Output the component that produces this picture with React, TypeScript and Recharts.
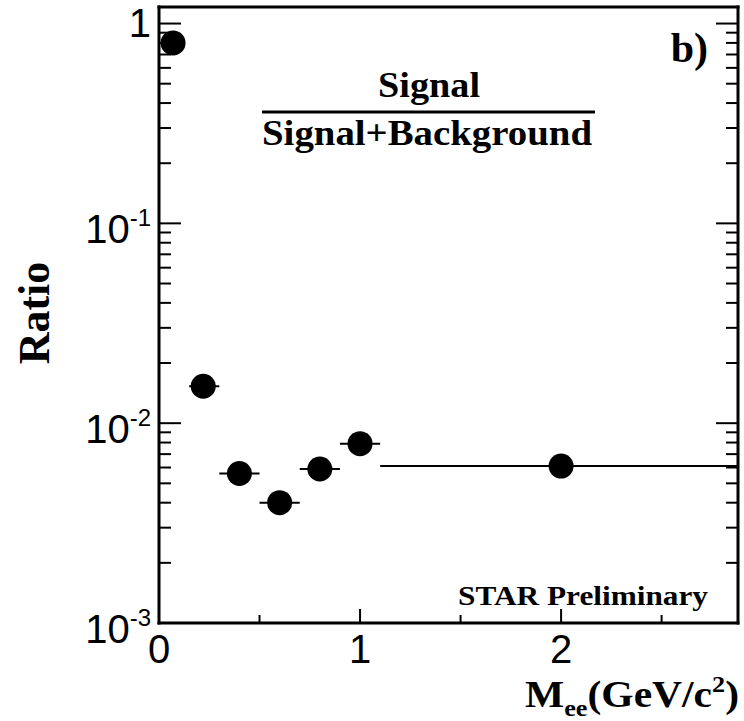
import React from "react";
import {
  ScatterChart,
  Scatter,
  XAxis,
  YAxis,
  ErrorBar,
} from "recharts";

// S/(S+B) ratio vs dielectron mass
const massBins = [0.07, 0.22, 0.4, 0.6, 0.8, 1.0, 2.0];
const ratioValues = [0.8, 0.0153, 0.0056, 0.004, 0.0059, 0.0079, 0.0061];
const binWidthLow = [0, 0.07, 0.1, 0.1, 0.1, 0.1, 0.9];
const binWidthHigh = [0, 0.08, 0.1, 0.1, 0.1, 0.1, 0.88];

const xTicks = [0, 0.5, 1, 1.5, 2, 2.5];
const xMajorTicks = [0, 1, 2];
const yDecades = [0.001, 0.01, 0.1, 1];
const yMinorSteps = [2, 3, 4, 5, 6, 7, 8, 9];
const yExponents = ["-3", "-2", "-1", "0"];

const data = massBins.map((m, i) => ({
  mass: m,
  ratio: ratioValues[i],
  massErr: [binWidthLow[i], binWidthHigh[i]],
}));

const yTicks = yDecades.flatMap((d, i) =>
  i === yDecades.length - 1 ? [d] : [d, ...yMinorSteps.map((s) => +(d * s).toPrecision(3))]
);

const sans = { fontFamily: '"Liberation Sans"' };
const serifBold = { fontFamily: '"Liberation Serif"', fontWeight: 700 };

function isMajorY(v: number) {
  return yDecades.some((d) => Math.abs(d - v) < d * 1e-6);
}

function LeftTick({ x, y, payload }: any) {
  const v = payload.value;
  const major = isMajorY(v);
  const idx = yDecades.findIndex((d) => Math.abs(d - v) < d * 1e-6);
  return (
    <g>
      <line x1={x} x2={x + (major ? 22 : 12)} y1={y} y2={y} stroke="#000" strokeWidth={2} />
      {major && v === 1 && (
        <text x={151} y={y + 13} textAnchor="end" style={sans} fontSize={40} fill="#000">
          1
        </text>
      )}
      {major && v !== 1 && (
        <text x={151} y={y + 20} textAnchor="end" style={sans} fontSize={40} fill="#000">
          <tspan>10</tspan>
          <tspan fontSize={24} dy={-17}>{yExponents[idx]}</tspan>
        </text>
      )}
    </g>
  );
}

function RightTick({ x, y, payload }: any) {
  const major = isMajorY(payload.value);
  return <line x1={x} x2={x - (major ? 22 : 12)} y1={y} y2={y} stroke="#000" strokeWidth={2} />;
}

function BottomTick({ x, y, payload }: any) {
  const major = xMajorTicks.includes(payload.value);
  return (
    <g>
      {payload.value !== 0 && (
        <line x1={x} x2={x} y1={y} y2={y - (major ? 14 : 8)} stroke="#000" strokeWidth={2} />
      )}
      {major && (
        <text x={x} y={y + 40} textAnchor="middle" style={sans} fontSize={40} fill="#000">
          {payload.value}
        </text>
      )}
    </g>
  );
}

function TopTick({ x, y, payload }: any) {
  if (payload.value === 0) return null;
  const major = xMajorTicks.includes(payload.value);
  return <line x1={x} x2={x} y1={y} y2={y + (major ? 14 : 8)} stroke="#000" strokeWidth={2} />;
}

const frameLine = { stroke: "#000", strokeWidth: 3, strokeLinecap: "square" as const };

export default function App() {
  return (
    <div style={{ position: "absolute", left: 0, top: 0, width: 744, height: 721, background: "#fff" }}>
      <ScatterChart width={744} height={721} margin={{ top: 6, right: 5, bottom: 0, left: 0 }}>
        <XAxis
          xAxisId="b"
          dataKey="mass"
          type="number"
          domain={[0, 2.88]}
          allowDataOverflow
          ticks={xTicks}
          interval={0}
          height={98}
          tickSize={0}
          tickMargin={0}
          tickLine={false}
          axisLine={frameLine}
          tick={<BottomTick />}
        />
        <XAxis
          xAxisId="t"
          orientation="top"
          type="number"
          domain={[0, 2.88]}
          allowDataOverflow
          ticks={xTicks}
          interval={0}
          height={1}
          tickSize={0}
          tickMargin={0}
          tickLine={false}
          axisLine={frameLine}
          tick={<TopTick />}
        />
        <YAxis
          yAxisId="l"
          dataKey="ratio"
          type="number"
          scale="log"
          domain={[0.001, 1.21]}
          allowDataOverflow
          ticks={yTicks}
          interval={0}
          width={159}
          tickSize={0}
          tickMargin={0}
          tickLine={false}
          axisLine={frameLine}
          tick={<LeftTick />}
        />
        <YAxis
          yAxisId="r"
          orientation="right"
          type="number"
          scale="log"
          domain={[0.001, 1.21]}
          allowDataOverflow
          ticks={yTicks}
          interval={0}
          width={1}
          tickSize={0}
          tickMargin={0}
          tickLine={false}
          axisLine={frameLine}
          tick={<RightTick />}
        />
        <Scatter
          data={data}
          xAxisId="b"
          yAxisId="l"
          isAnimationActive={false}
          shape={(p: any) => <circle cx={p.cx} cy={p.cy} r={12.5} fill="#000" />}
        >
          <ErrorBar dataKey="massErr" direction="x" width={0} stroke="#000" strokeWidth={2} />
        </Scatter>
      </ScatterChart>

      <svg
        width={744}
        height={721}
        style={{ position: "absolute", left: 0, top: 0, pointerEvents: "none" }}
      >
        <text
          x={49}
          y={313}
          transform="rotate(-90 49 313)"
          textAnchor="middle"
          style={serifBold}
          fontSize={44}
          fill="#000"
        >
          Ratio
        </text>
        <text x={708} y={62} textAnchor="end" style={serifBold} fontSize={42} fill="#000">
          b)
        </text>
        <text
          x={378}
          y={97}
          textLength={102}
          lengthAdjust="spacingAndGlyphs"
          style={serifBold}
          fontSize={36}
          fill="#000"
        >
          Signal
        </text>
        <line x1={262} x2={595} y1={112} y2={112} stroke="#000" strokeWidth={3} />
        <text
          x={262}
          y={145}
          textLength={330}
          lengthAdjust="spacingAndGlyphs"
          style={serifBold}
          fontSize={36}
          fill="#000"
        >
          Signal+Background
        </text>
        <text
          x={458}
          y={605}
          textLength={250}
          lengthAdjust="spacingAndGlyphs"
          style={serifBold}
          fontSize={28}
          fill="#000"
        >
          STAR Preliminary
        </text>
        <text
          x={525}
          y={707}
          textLength={214}
          lengthAdjust="spacingAndGlyphs"
          style={serifBold}
          fontSize={38}
          fill="#000"
        >
          <tspan>M</tspan>
          <tspan fontSize={24} dy={9}>ee</tspan>
          <tspan dy={-9}>(GeV/c</tspan>
          <tspan fontSize={24} dy={-15}>2</tspan>
          <tspan dy={15}>)</tspan>
        </text>
      </svg>
    </div>
  );
}
